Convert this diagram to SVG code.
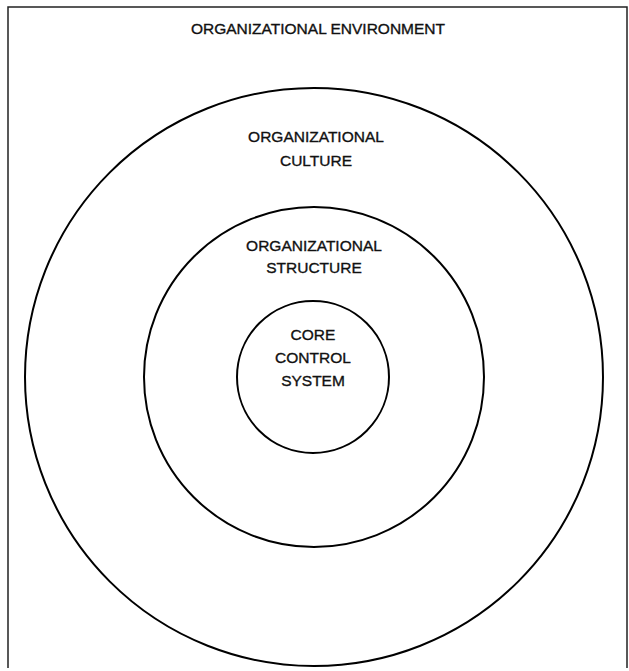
<svg xmlns="http://www.w3.org/2000/svg" width="629" height="671" viewBox="0 0 629 671">
<style>
.ring{fill:none;stroke:#000;stroke-width:2}
.frame{fill:none;stroke:#222;stroke-width:1.5}
text{font-family:"Liberation Sans",Arial,sans-serif;font-size:15.5px;fill:#111;stroke:#111;stroke-width:0.35;text-anchor:middle}
</style>
<rect width="629" height="671" fill="#fff"/>
<g id="frame"><path class="frame" d="M8,668 V7 H627 V668"/>
<text x="318" y="34">ORGANIZATIONAL ENVIRONMENT</text></g>
<g id="culture"><circle class="ring" cx="314" cy="377" r="289"/>
<text x="316" y="142">ORGANIZATIONAL</text><text x="316" y="166">CULTURE</text></g>
<g id="structure"><circle class="ring" cx="314" cy="377" r="170"/>
<text x="314" y="251">ORGANIZATIONAL</text><text x="314" y="273">STRUCTURE</text></g>
<g id="core"><circle class="ring" cx="313" cy="377" r="76"/>
<text x="313" y="340">CORE</text><text x="313" y="363">CONTROL</text><text x="313" y="386">SYSTEM</text></g>
<g id="connectors"/>
</svg>
